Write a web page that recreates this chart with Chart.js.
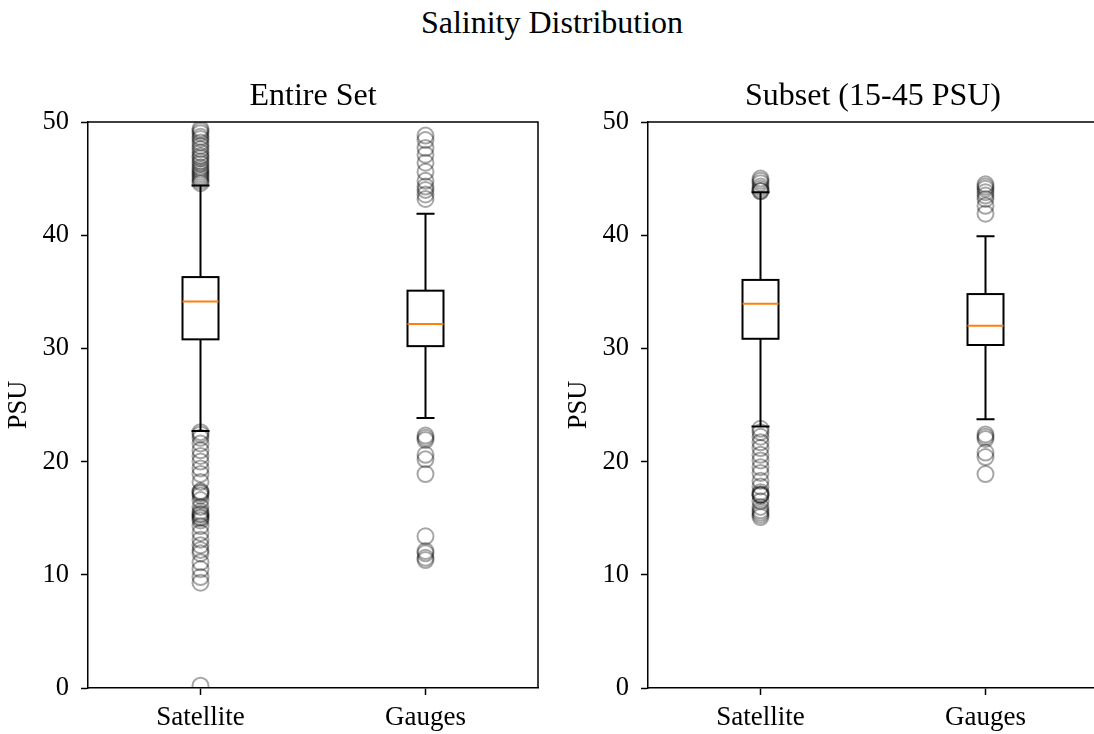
<!DOCTYPE html>
<html>
<head>
<meta charset="utf-8">
<script src="https://cdn.jsdelivr.net/npm/chart.js@4.4.1/dist/chart.umd.min.js"></script>
<style>
    html, body { margin: 0; padding: 0; background: #fff; overflow: hidden; width: 1094px; height: 734px; position: relative; }
    #suptitle { position: absolute; left: 5px; top: 3px; width: 1094px; text-align: center; font: 32px 'Liberation Serif', 'Times New Roman', serif; line-height: 38px; color: #000; }
    .panel { position: absolute; top: 0; width: 560px; height: 734px; }
</style>
</head>
<body>
<div id="suptitle">Salinity Distribution</div>
<div class="panel" style="left:0"><canvas id="entireChart" width="560" height="734"></canvas></div>
<div class="panel" style="left:560px"><canvas id="subsetChart" width="560" height="734"></canvas></div>
<script>
const categories = ['Satellite', 'Gauges'];
const yTicks = [0, 10, 20, 30, 40, 50];

// Entire set box stats (Satellite, Gauges)
const entireLow = [22.7, 23.85];
const entireQ1 = [30.8, 30.2];
const entireMedian = [34.15, 32.15];
const entireQ3 = [36.3, 35.1];
const entireHigh = [44.4, 41.9];

const entireSatOutliers = [49.4, 49.2, 49.0, 48.7, 48.5, 48.2, 47.9, 47.6, 47.3, 47.0, 46.8, 46.5, 46.3, 46.0, 45.8, 45.6, 45.4, 45.2, 45.0, 44.8, 44.6,
    22.6, 22.4, 22.1, 21.6, 21.0, 20.5, 20.0, 19.4, 18.9, 18.2, 17.4, 17.3, 17.2, 17.0, 16.6, 16.0, 15.6, 15.4, 15.3, 15.1, 15.0, 14.8, 14.3, 13.7, 13.1, 12.6, 12.2, 11.9, 11.1, 10.5, 9.8, 9.3, 0.2];
const entireGaugeOutliers = [48.8, 48.4, 47.7, 47.1, 46.4, 45.6, 44.8, 44.3, 44.0, 43.6, 43.2,
    22.3, 22.1, 21.9, 20.6, 20.2, 18.9, 13.4, 12.1, 11.9, 11.5, 11.3];

// Subset (15-45 PSU) box stats
const subsetLow = [23.1, 23.75];
const subsetQ1 = [30.85, 30.3];
const subsetMedian = [33.95, 32.0];
const subsetQ3 = [36.05, 34.8];
const subsetHigh = [43.8, 39.9];

const subsetSatOutliers = [45.0, 44.8, 44.6, 44.3, 44.1, 43.9, 43.9,
    22.9, 22.6, 22.2, 21.7, 21.2, 20.6, 20.1, 19.5, 19.0, 18.3, 17.8, 17.3, 17.1, 17.1, 17.0, 16.5, 16.0, 15.7, 15.5, 15.3, 15.1];
const subsetGaugeOutliers = [44.5, 44.3, 44.1, 43.8, 43.5, 43.2, 42.6, 41.9,
    22.4, 22.2, 22.0, 20.8, 20.4, 18.9];

const FONT = "'Liberation Serif', 'Times New Roman', serif";
Chart.defaults.font.family = FONT;
Chart.defaults.color = '#000';

const BOX_WIDTH = 0.16; // in x units

const boxPlot = {
    id: 'boxPlot',
    beforeDatasetsDraw(chart, args, opts) {
        const { ctx, scales: { x, y } } = chart;
        ctx.save();
        ctx.lineWidth = 2;
        ctx.strokeStyle = '#000';
        opts.q1.forEach((q1, i) => {
            const cx = x.getPixelForValue(i + 1);
            const half = x.getPixelForValue(i + 1 + BOX_WIDTH / 2) - cx;
            const yQ1 = y.getPixelForValue(q1);
            const yQ3 = y.getPixelForValue(opts.q3[i]);
            const yLo = y.getPixelForValue(opts.low[i]);
            const yHi = y.getPixelForValue(opts.high[i]);
            const yMed = y.getPixelForValue(opts.median[i]);

            // whiskers + caps
            ctx.beginPath();
            ctx.moveTo(cx, yQ1); ctx.lineTo(cx, yLo);
            ctx.moveTo(cx, yQ3); ctx.lineTo(cx, yHi);
            ctx.moveTo(cx - half / 2, yLo); ctx.lineTo(cx + half / 2, yLo);
            ctx.moveTo(cx - half / 2, yHi); ctx.lineTo(cx + half / 2, yHi);
            ctx.stroke();

            // box
            ctx.strokeRect(cx - half, yQ3, half * 2, yQ1 - yQ3);

            // median
            ctx.beginPath();
            ctx.strokeStyle = '#ff7f0e';
            ctx.moveTo(cx - half, yMed); ctx.lineTo(cx + half, yMed);
            ctx.stroke();
            ctx.strokeStyle = '#000';
        });
        ctx.restore();
    },
    afterDraw(chart, args, opts) {
        // top and right spines, subplot title centred on the axes
        const { ctx, chartArea: a } = chart;
        ctx.save();
        ctx.lineWidth = 1.5;
        ctx.strokeStyle = '#000';
        ctx.beginPath();
        ctx.moveTo(a.left, a.top); ctx.lineTo(a.right, a.top); ctx.lineTo(a.right, a.bottom);
        ctx.stroke();
        ctx.fillStyle = '#000';
        ctx.font = '32px ' + FONT;
        ctx.textAlign = 'center';
        ctx.textBaseline = 'middle';
        ctx.fillText(opts.title, (a.left + a.right) / 2, a.top - 25);
        ctx.restore();
    }
};

function outlierDataset(values, pos) {
    return {
        data: values.map(v => ({ x: pos, y: v })),
        pointRadius: 8,
        pointHoverRadius: 8,
        pointBorderWidth: 2,
        pointBorderColor: 'rgba(0,0,0,0.35)',
        pointBackgroundColor: 'rgba(0,0,0,0)',
        clip: 0
    };
}

function makeChart(canvasId, title, stats, satOut, gaugeOut) {
    return new Chart(document.getElementById(canvasId), {
        type: 'scatter',
        data: {
            datasets: [outlierDataset(satOut, 1), outlierDataset(gaugeOut, 2)]
        },
        plugins: [boxPlot],
        options: {
            responsive: false,
            animation: false,
            events: [],
            layout: { padding: { top: 122, left: 0, right: 22, bottom: 0 } },
            plugins: {
                legend: { display: false },
                tooltip: { enabled: false },
                boxPlot: Object.assign({ title }, stats)
            },
            scales: {
                x: {
                    type: 'linear',
                    min: 0.5,
                    max: 2.5,
                    afterBuildTicks: s => { s.ticks = categories.map((c, i) => ({ value: i + 1 })); },
                    afterFit: s => { s.height = 46; },
                    ticks: {
                        font: { size: 27 },
                        padding: 7,
                        maxRotation: 0,
                        callback: v => categories[v - 1]
                    },
                    grid: { drawOnChartArea: false, drawTicks: true, tickLength: 7, tickColor: '#000', tickWidth: 1.5 },
                    border: { display: true, color: '#000', width: 1.5 }
                },
                y: {
                    min: 0,
                    max: 50,
                    afterBuildTicks: s => { s.ticks = yTicks.map(v => ({ value: v })); },
                    afterFit: s => { s.width = 88; },
                    ticks: { font: { size: 26.5 }, padding: 12 },
                    title: { display: true, text: 'PSU', font: { size: 26.5 }, padding: { top: 3, bottom: 4 } },
                    grid: { drawOnChartArea: false, drawTicks: true, tickLength: 7, tickColor: '#000', tickWidth: 1.5 },
                    border: { display: true, color: '#000', width: 1.5 }
                }
            }
        }
    });
}

makeChart('entireChart', 'Entire Set',
    { low: entireLow, q1: entireQ1, median: entireMedian, q3: entireQ3, high: entireHigh },
    entireSatOutliers, entireGaugeOutliers);

makeChart('subsetChart', 'Subset (15-45 PSU)',
    { low: subsetLow, q1: subsetQ1, median: subsetMedian, q3: subsetQ3, high: subsetHigh },
    subsetSatOutliers, subsetGaugeOutliers);
</script>
</body>
</html>
